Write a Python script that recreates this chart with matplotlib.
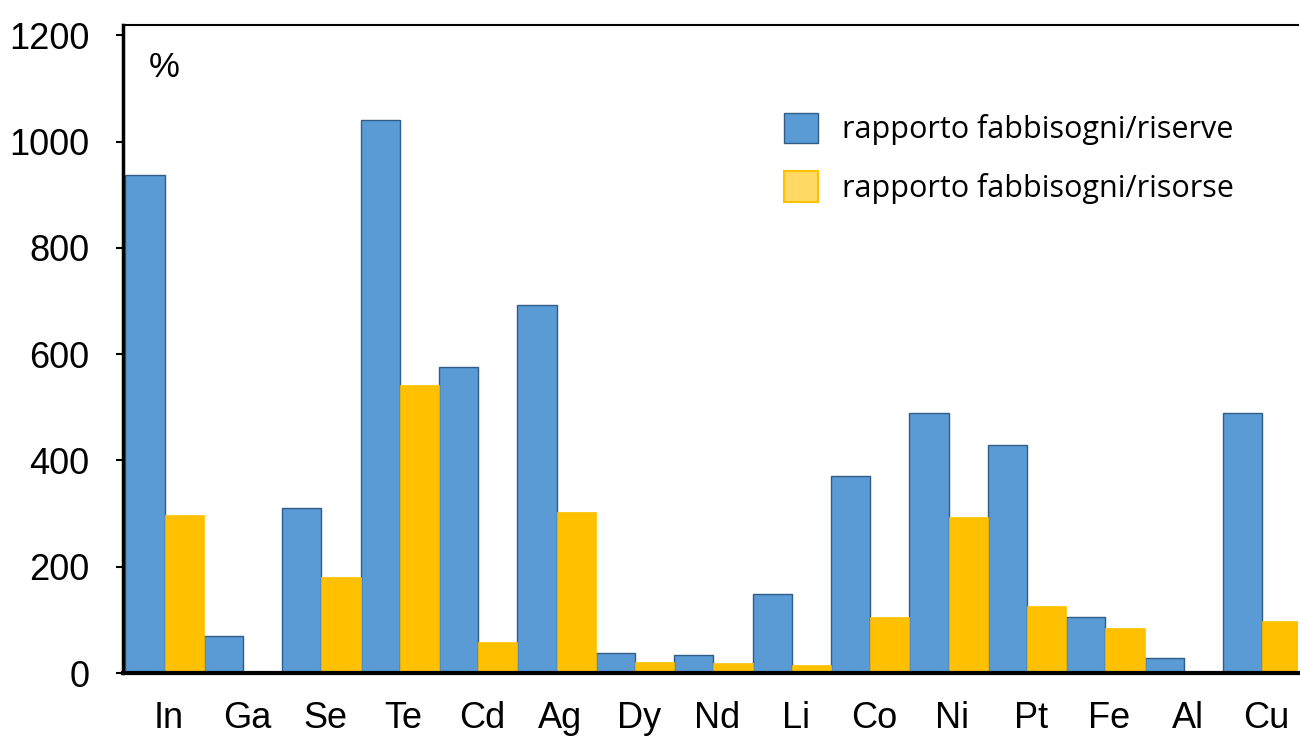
import numpy as np
import matplotlib.pyplot as plt
from matplotlib.patches import Patch

# dati
elementi = ['In', 'Ga', 'Se', 'Te', 'Cd', 'Ag', 'Dy', 'Nd', 'Li', 'Co', 'Ni', 'Pt', 'Fe', 'Al', 'Cu']
riserve = [937, 70, 310, 1040, 576, 692, 38, 34, 149, 370, 489, 429, 105, 28, 489]
risorse = [297, 2, 180, 542, 58, 303, 21, 19, 15, 105, 293, 126, 85, 4, 98]

blu = '#5b9bd5'
giallo = '#ffc000'

fig = plt.figure(figsize=(13, 7.38), dpi=100)
ax = fig.add_axes([0.0946, 0.088, 0.904, 0.878])

x = np.arange(len(elementi))
ax.bar(x - 0.25, riserve, width=0.5, color=blu, edgecolor='#2f5d86', linewidth=1.0)
ax.bar(x + 0.25, risorse, width=0.5, color=giallo, edgecolor=giallo, linewidth=0.5)

ax.set_xlim(-0.53, 14.46)
ax.set_ylim(0, 1219)
ax.set_yticks(range(0, 1201, 200))
ax.set_xticks(x + 0.05)
ax.set_xticklabels(elementi, family='Liberation Sans', fontsize=26)
ax.tick_params(axis='x', length=0, pad=20)
ax.tick_params(axis='y', length=5, width=1.5, pad=19, labelsize=26, direction='out')
for t in ax.get_yticklabels():
    t.set_family('Liberation Sans')

ax.spines['right'].set_visible(False)
ax.spines['left'].set_linewidth(2.5)
ax.spines['bottom'].set_linewidth(3)
ax.spines['top'].set_linewidth(1.5)

ax.text(0.022, 0.935, '%', transform=ax.transAxes, fontsize=25,
        family='Liberation Sans', va='center', ha='left')

handles = [Patch(facecolor=blu, edgecolor='#2f5d86', label='rapporto fabbisogni/riserve'),
           Patch(facecolor='#ffd966', edgecolor=giallo, linewidth=1.5, label='rapporto fabbisogni/risorse')]
ax.legend(handles=handles, loc='upper left', bbox_to_anchor=(0.539, 0.907), frameon=False,
          prop={'family': 'Open Sans', 'size': 22, 'weight': 'medium'},
          handlelength=1.1, handleheight=1.15, labelspacing=0.85, handletextpad=0.8)

plt.savefig('out.png')
